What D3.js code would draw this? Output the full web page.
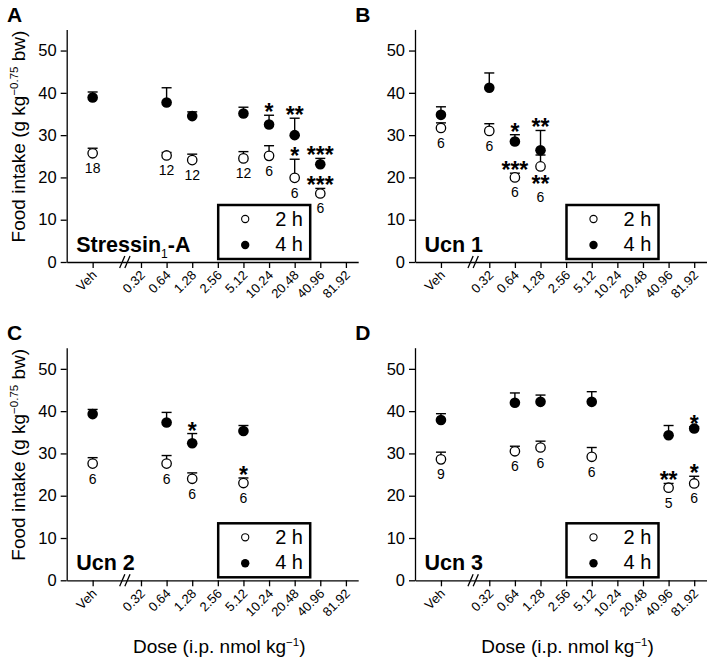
<!DOCTYPE html>
<html><head><meta charset="utf-8">
<script src="https://cdn.jsdelivr.net/npm/d3@7"></script>
<style>body{margin:0;background:#fff}svg{display:block}text{font-family:Arial,"Liberation Sans",Helvetica,sans-serif;fill:#000}</style>
</head><body><svg id="c" width="709" height="663"></svg>
<script>
// ---------- data ----------
const doseTicks = ["Veh","0.32","0.64","1.28","2.56","5.12","10.24","20.48","40.96","81.92"];
const yTicks = [0,10,20,30,40,50];
const legendLabels = ["2 h","4 h"];

// Panel A: Stressin1-A
const aDose = ["Veh","0.64","1.28","5.12","10.24","20.48","40.96"];
const a2hMean = [25.7,25.2,24.1,24.5,25.1,19.9,16.2];
const a2hSem  = [1.2,0.7,1.4,1.6,2.4,4.4,1.2];
const a4hMean = [38.9,37.7,34.5,35.1,32.5,30.0,23.1];
const a4hSem  = [1.3,3.5,1.0,1.5,2.2,4.0,1.4];
const aN = [18,12,12,12,6,6,6];
const aSig = [
  {dose:"10.24",series:"4h",text:"*",place:"above"},
  {dose:"20.48",series:"4h",text:"**",place:"above"},
  {dose:"20.48",series:"2h",text:"*",place:"above"},
  {dose:"40.96",series:"4h",text:"***",place:"above"},
  {dose:"40.96",series:"2h",text:"***",place:"above"}
];

// Panel B: Ucn 1
const bDose = ["Veh","0.32","0.64","1.28"];
const b2hMean = [31.7,31.0,20.0,22.6];
const b2hSem  = [1.2,1.7,1.0,2.7];
const b4hMean = [34.8,41.2,28.5,26.4];
const b4hSem  = [1.9,3.5,1.6,4.7];
const bN = [6,6,6,6];
const bSig = [
  {dose:"0.64",series:"4h",text:"*",place:"above"},
  {dose:"0.64",series:"2h",text:"***",place:"above"},
  {dose:"1.28",series:"4h",text:"**",place:"above"},
  {dose:"1.28",series:"2h",text:"**",place:"below"}
];

// Panel C: Ucn 2
const cDose = ["Veh","0.64","1.28","5.12"];
const c2hMean = [27.6,27.6,24.0,23.0];
const c2hSem  = [1.4,1.9,1.4,1.2];
const c4hMean = [39.3,37.3,32.4,35.3];
const c4hSem  = [1.1,2.4,2.3,1.3];
const cN = [6,6,6,6];
const cSig = [
  {dose:"1.28",series:"4h",text:"*",place:"above"},
  {dose:"5.12",series:"2h",text:"*",place:"above"}
];

// Panel D: Ucn 3
const dDose = ["Veh","0.64","1.28","5.12","40.96","81.92"];
const d2hMean = [28.6,30.5,31.4,29.2,21.9,22.9];
const d2hSem  = [1.7,1.2,1.5,2.2,1.0,1.7];
const d4hMean = [37.9,42.0,42.2,42.2,34.3,35.9];
const d4hSem  = [1.5,2.3,1.6,2.4,2.3,0.4];
const dN = [9,6,6,6,5,6];
const dSig = [
  {dose:"40.96",series:"2h",text:"**",place:"above"},
  {dose:"81.92",series:"4h",text:"*",place:"above"},
  {dose:"81.92",series:"2h",text:"*",place:"above"}
];

// ---------- layout ----------
const panels = [
  {letter:"A", name:"Stressin", sub:"1", suffix:"-A", doses:aDose, m2:a2hMean, s2:a2hSem, m4:a4hMean, s4:a4hSem, n:aN, sig:aSig, ax:66.7, base:262, yTitle:true, xTitle:false},
  {letter:"B", name:"Ucn 1", doses:bDose, m2:b2hMean, s2:b2hSem, m4:b4hMean, s4:b4hSem, n:bN, sig:bSig, ax:415, base:262, yTitle:false, xTitle:false},
  {letter:"C", name:"Ucn 2", doses:cDose, m2:c2hMean, s2:c2hSem, m4:c4hMean, s4:c4hSem, n:cN, sig:cSig, ax:66.7, base:580.3, yTitle:true, xTitle:true},
  {letter:"D", name:"Ucn 3", doses:dDose, m2:d2hMean, s2:d2hSem, m4:d4hMean, s4:d4hSem, n:dN, sig:dSig, ax:415, base:580.3, yTitle:false, xTitle:true}
];

const svg = d3.select("#c");
const W = 291.5, H = 232.6, R = 5.3, CAP = 5;
const vehDose = 0.32 * Math.pow(2, -1.887);
const breakDose = 0.32 * Math.pow(2, -0.63);
const pos = d => d === "Veh" ? vehDose : +d;
const FF = "Arial, 'Liberation Sans', Helvetica, sans-serif";

panels.forEach(p => {
  const g = svg.append("g");
  const x = d3.scaleLog().base(2)
    .domain([0.32*Math.pow(2,-2.9), 0.32*Math.pow(2,8.48)])
    .range([p.ax, p.ax + W]);
  const y = d3.scaleLinear().domain([0,55]).range([p.base, p.base - H]);

  // y axis
  const yAx = d3.axisLeft(y).tickValues(yTicks).tickSize(6).tickPadding(4).tickSizeOuter(0);
  const ya = g.append("g").attr("transform", `translate(${p.ax},0)`).call(yAx);
  ya.select(".domain").attr("stroke","#000").attr("stroke-width",1.3);
  ya.selectAll(".tick line").attr("stroke","#000").attr("stroke-width",1.3);
  ya.selectAll(".tick text").attr("font-size",16.5).attr("font-family",FF).attr("fill","#000");

  // x axis (ticks from axis, labels drawn rotated 45°)
  const xAx = d3.axisBottom(x).tickValues(doseTicks.map(pos)).tickSize(6).tickSizeOuter(0).tickFormat("");
  const xa = g.append("g").attr("transform", `translate(0,${p.base})`).call(xAx);
  xa.select(".domain").attr("stroke","#000").attr("stroke-width",1.3);
  xa.selectAll(".tick line").attr("stroke","#000").attr("stroke-width",1.3);
  xa.selectAll(".tick text").remove();
  g.append("g").selectAll("text").data(doseTicks).join("text")
    .attr("transform", d => `translate(${x(pos(d)) + 5},${p.base + 14}) rotate(-45)`)
    .attr("text-anchor","end").attr("font-size",13).attr("font-family",FF)
    .text(d => d);

  // axis break
  const bx = x(breakDose);
  [-2.6, 2.6].forEach(o => {
    g.append("line").attr("x1", bx+o-2.6).attr("y1", p.base+6).attr("x2", bx+o+2.6).attr("y2", p.base-6)
      .attr("stroke","#000").attr("stroke-width",1.3);
  });

  const rows = p.doses.map((d,i) => ({d, xp:x(pos(d)), m2:p.m2[i], s2:p.s2[i], m4:p.m4[i], s4:p.s4[i], n:p.n[i]}));

  // error bars (upward SEM)
  const eb = g.append("g").attr("stroke","#000").attr("stroke-width",1.4);
  rows.forEach(r => {
    [[r.m4,r.s4],[r.m2,r.s2]].forEach(([m,s]) => {
      eb.append("line").attr("x1",r.xp).attr("x2",r.xp).attr("y1",y(m)).attr("y2",y(m+s));
      eb.append("line").attr("x1",r.xp-CAP).attr("x2",r.xp+CAP).attr("y1",y(m+s)).attr("y2",y(m+s));
    });
  });
  // markers
  g.selectAll(".f").data(rows).join("circle").attr("cx",r=>r.xp).attr("cy",r=>y(r.m4)).attr("r",R).attr("fill","#000");
  g.selectAll(".o").data(rows).join("circle").attr("cx",r=>r.xp).attr("cy",r=>y(r.m2)).attr("r",R-0.6)
    .attr("fill","#fff").attr("stroke","#000").attr("stroke-width",1.3);

  // significance marks
  const belowSet = new Set();
  p.sig.forEach(s => {
    const r = rows.find(rr => rr.d === s.dose);
    const m = s.series === "4h" ? r.m4 : r.m2;
    const se = s.series === "4h" ? r.s4 : r.s2;
    let yy;
    if (s.place === "below") { yy = y(m) + 26; belowSet.add(s.dose); }
    else yy = y(m+se) + 5;
    g.append("text").attr("x", r.xp).attr("y", yy).attr("text-anchor","middle")
      .attr("font-size",23).attr("font-weight","bold").text(s.text);
  });

  // n labels
  rows.forEach(r => {
    g.append("text").attr("x", r.xp).attr("y", y(r.m2) + (belowSet.has(r.d) ? 36 : 20))
      .attr("text-anchor","middle").attr("font-size",14).text(r.n);
  });

  // legend
  const lx = p.ax + 151.5, ly = p.base - 57;
  g.append("rect").attr("x",lx).attr("y",ly).attr("width",92).attr("height",54)
    .attr("fill","#fff").attr("stroke","#000").attr("stroke-width",2.5);
  g.append("circle").attr("cx",lx+27).attr("cy",ly+14).attr("r",3.6).attr("fill","#fff").attr("stroke","#000").attr("stroke-width",1.1);
  g.append("circle").attr("cx",lx+27).attr("cy",ly+40).attr("r",4.2).attr("fill","#000");
  g.append("text").attr("x",lx+57).attr("y",ly+21).attr("font-size",20).text(legendLabels[0]);
  g.append("text").attr("x",lx+57).attr("y",ly+46).attr("font-size",20).text(legendLabels[1]);

  // peptide name
  const nm = g.append("text").attr("x", p.ax + 9.5).attr("y", p.base - 10.5).attr("font-size",21.5).attr("font-weight","bold");
  nm.append("tspan").text(p.name);
  if (p.sub) {
    nm.append("tspan").attr("font-size",12).attr("font-weight","normal").attr("dy",6).text(p.sub);
    nm.append("tspan").attr("dy",-6).text(p.suffix);
  }

  // panel letter
  g.append("text").attr("x", p.ax - 59.7).attr("y", p.base - 240).attr("font-size",21).attr("font-weight","bold").text(p.letter);

  // axis titles
  if (p.yTitle) {
    const t = g.append("text").attr("transform", `translate(25,${p.base - 125.5}) rotate(-90)`)
      .attr("text-anchor","middle").attr("font-size",19);
    t.append("tspan").text("Food intake (g kg");
    t.append("tspan").attr("font-size",11.5).attr("dy",-7).text("\u22120.75");
    t.append("tspan").attr("dy",7).text(" bw)");
  }
  if (p.xTitle) {
    const cx = (x(pos("Veh")) + x(pos("81.92"))) / 2;
    const t = g.append("text").attr("x", cx).attr("y", p.base + 72.7).attr("text-anchor","middle").attr("font-size",19);
    t.append("tspan").text("Dose (i.p. nmol kg");
    t.append("tspan").attr("font-size",11.5).attr("dy",-7).text("\u22121");
    t.append("tspan").attr("dy",7).text(")");
  }
});
</script></body></html>
